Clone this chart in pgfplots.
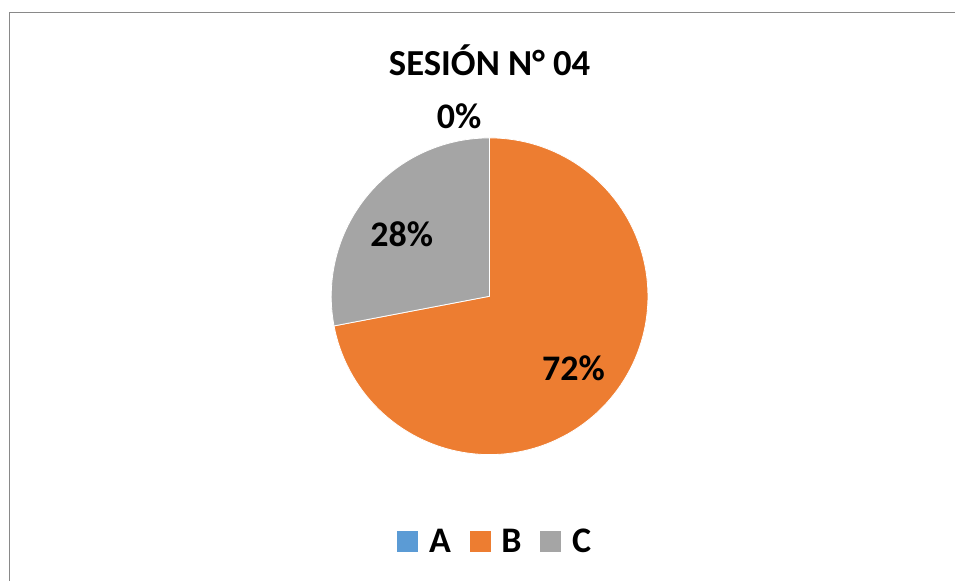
\documentclass[border=0pt]{standalone}
\usepackage{pgfplots}
\pgfplotsset{compat=1.18}
\usepackage{fontspec}
\setmainfont{Carlito}
\definecolor{pieA}{HTML}{5B9BD5}
\definecolor{pieB}{HTML}{ED7D31}
\definecolor{pieC}{HTML}{A5A5A5}
\definecolor{frame}{RGB}{137,137,137}
% shares (percent), clockwise from 12 o'clock: A = 0, B = 72, C = 28
\begin{document}
\begin{tikzpicture}
\begin{axis}[
  hide axis, scale only axis, clip=false,
  width=717pt, height=435.75pt,
  xmin=0, xmax=956, ymin=0, ymax=581,
  legend columns=3,
  legend style={draw=none, fill=none, at={(axis cs:496,39)}, anchor=center,
    font=\fontsize{27}{30}\selectfont\bfseries,
    /tikz/every odd column/.append style={column sep=6.5pt},
    /tikz/every even column/.append style={column sep=12pt},
    inner sep=0pt, cells={anchor=west, inner sep=0pt}},
  legend image code/.code={\fill[#1] (0pt,-7.5pt) rectangle (15pt,7.5pt);},
]
\path (axis cs:0,0) rectangle (axis cs:956,581);
% B: 72% -> from 90 deg clockwise by 259.2 deg
\addplot[fill=pieB, draw=white, line width=0.6pt, domain=-169.2:90, samples=120, forget plot]
  ({490+158.5*cos(x)},{284.5+158.5*sin(x)}) -- (axis cs:490,284.5) -- cycle;
% C: 28% -> from -169.2 deg clockwise by 100.8 deg
\addplot[fill=pieC, draw=white, line width=0.6pt, domain=90:190.8, samples=60, forget plot]
  ({490+158.5*cos(x)},{284.5+158.5*sin(x)}) -- (axis cs:490,284.5) -- cycle;
\addlegendimage{pieA}
\addlegendimage{pieB}
\addlegendimage{pieC}
\legend{A,B,C}
\node[font=\fontsize{27.5}{30}\selectfont\bfseries] at (axis cs:490,521) {SESIÓN N° 04};
\node[font=\fontsize{27}{30}\selectfont\bfseries] at (axis cs:459.5,465) {0\%};
\node[font=\fontsize{27}{30}\selectfont\bfseries] at (axis cs:402,346.5) {28\%};
\node[font=\fontsize{27}{30}\selectfont\bfseries] at (axis cs:574,212.5) {72\%};
\draw[frame, line width=1.2pt] (axis cs:9.5,0) -- (axis cs:9.5,568.5) -- (axis cs:956,568.5);
\end{axis}
\end{tikzpicture}
\end{document}
